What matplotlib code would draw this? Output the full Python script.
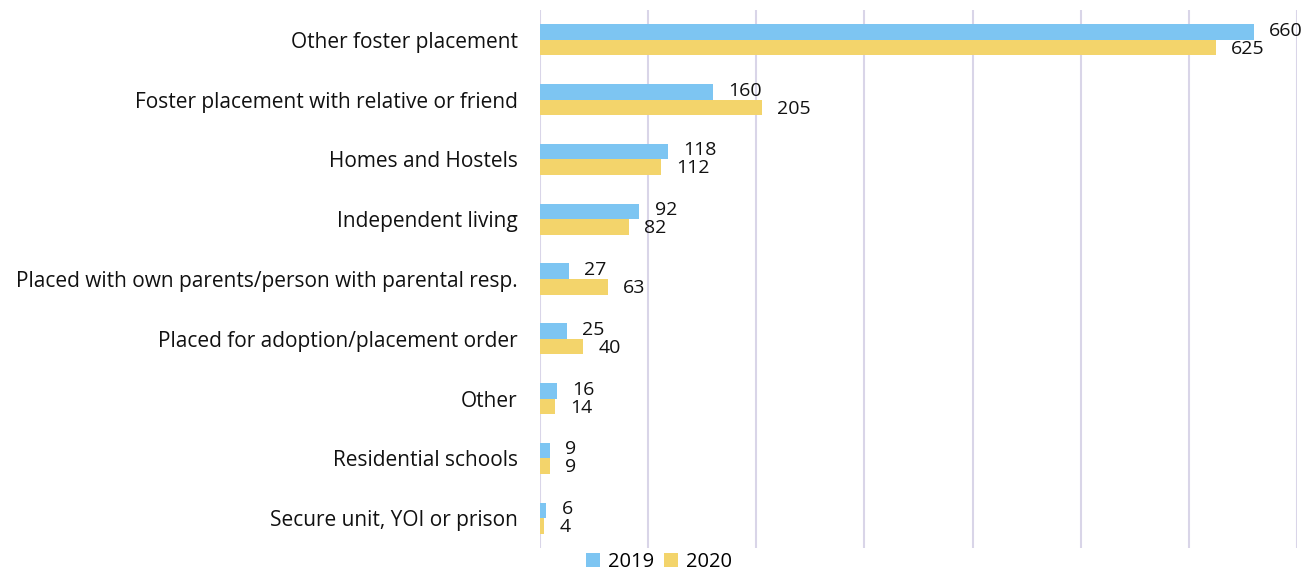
import numpy as np
import matplotlib.pyplot as plt

categories = [
    "Other foster placement",
    "Foster placement with relative or friend",
    "Homes and Hostels",
    "Independent living",
    "Placed with own parents/person with parental resp.",
    "Placed for adoption/placement order",
    "Other",
    "Residential schools",
    "Secure unit, YOI or prison",
]
values_2019 = [660, 160, 118, 92, 27, 25, 16, 9, 6]
values_2020 = [625, 205, 112, 82, 63, 40, 14, 9, 4]

BLUE = "#7DC5F2"
YELLOW = "#F3D46B"

plt.rcParams["font.family"] = ["Open Sans", "DejaVu Sans"]

fig = plt.figure(figsize=(13.04, 5.73), dpi=100)
ax = fig.add_axes([540 / 1304, 1 - 548 / 573, (1297 - 540) / 1304, 538 / 573])

y = np.arange(len(categories))
h = 0.26
ax.barh(y - h / 2, values_2019, height=h, color=BLUE, label="2019", zorder=2)
ax.barh(y + h / 2, values_2020, height=h, color=YELLOW, label="2020", zorder=2)

# value labels just past the bar ends
off = 14
for yi, v in zip(y, values_2019):
    ax.text(v + off, yi - h / 2 - 0.02, str(v), va="center", ha="left", fontsize=14, color="#111111")
for yi, v in zip(y, values_2020):
    ax.text(v + off, yi + h / 2 + 0.02, str(v), va="center", ha="left", fontsize=14, color="#111111")

ax.set_xlim(0, 700)
ax.set_ylim(len(categories) - 0.5, -0.5)
ax.set_yticks(y)
ax.set_yticklabels(categories, fontsize=15, color="#111111")
ax.tick_params(axis="y", length=0, pad=16)
ax.set_xticks(np.arange(0, 701, 100))
ax.tick_params(axis="x", length=0, labelbottom=False)
ax.grid(axis="x", color="#D9D5E8", linewidth=1.5, zorder=0)
for s in ax.spines.values():
    s.set_visible(False)

fig.legend(loc="center", bbox_to_anchor=(659 / 1304, 1 - 562 / 573), ncol=2, frameon=False,
           fontsize=14.5, handlelength=0.7, handleheight=0.7, handletextpad=0.4, columnspacing=0.5,
           borderpad=0)

fig.savefig("out.png", dpi=100)
